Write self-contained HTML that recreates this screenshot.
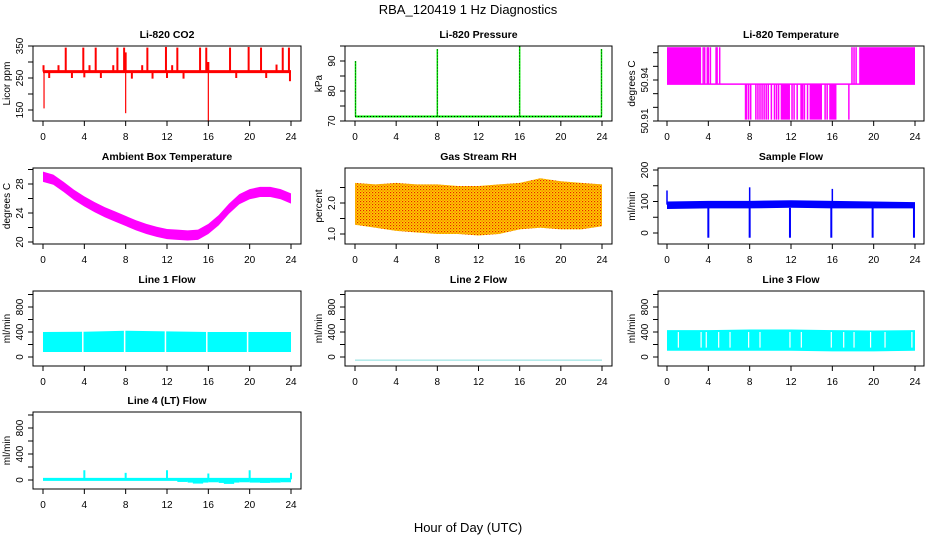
<!DOCTYPE html>
<html><head><meta charset="utf-8"><style>
html,body{margin:0;padding:0;background:#fff}
svg{display:block}
text{font-family:"Liberation Sans",Arial,sans-serif;fill:#000}
</style></head><body>
<svg id="chart" width="936" height="540" viewBox="0 0 936 540" xmlns="http://www.w3.org/2000/svg">
<defs>
<pattern id="rhpat" width="3" height="3" patternUnits="userSpaceOnUse">
<rect width="3" height="3" fill="#ffd000"/><rect x="0" y="0" width="1.2" height="1.2" fill="#e82000"/><rect x="1.5" y="1.5" width="1.2" height="1.2" fill="#f06000"/>
</pattern>
</defs>
<text x="468" y="14" text-anchor="middle" font-size="13">RBA_120419  1 Hz Diagnostics</text>
<text x="468" y="532" text-anchor="middle" font-size="13">Hour of Day (UTC)</text>
</svg>
<script>
// ---- data ----
const xTickValues=[0,4,8,12,16,20,24];
const co2Base=270;
const co2SpikeHours=[2.2,3.9,5.1,7.2,7.85,10.1,11.9,13.0,15.2,15.8,18.1,19.9,21.1,23.2,23.8,1.5,4.5,6.8,9.6,12.5,22.6,0.05,8.0,16.0,15.9];
const co2SpikeValues=[345,345,345,345,345,345,347,345,345,345,345,347,345,345,345,290,290,290,290,290,292,290,330,300,300];
const co2DipHours=[0.1,8.0,16.0,0.6,2.8,5.6,8.6,10.6,13.6,18.7,21.6,23.9,4.0,12.0];
const co2DipValues=[155,140,115,250,250,250,248,248,248,250,250,240,252,250];
const presBase=71.5;
const presSpikeHours=[0.05,8.0,16.0,23.95];
const presSpikeValues=[90,94,95,94];
const tempBase=50.937, tempHigh=50.964, tempLow=50.911;
const tempHighSpans=[[0,3.3],[18.6,24]];
const tempHighBars=[3.5,3.65,3.9,4.0,4.2,4.75,4.85,5.1,17.9,18.1,18.3];
const tempLowSpans=[[11.0,11.9],[12.9,13.2],[13.8,15.0],[15.7,16.4]];
const tempLowBars=[7.6,7.7,7.9,8.1,8.6,8.8,9.0,9.2,9.4,9.6,9.8,10.1,10.4,10.6,10.8,12.1,12.3,12.6,13.3,13.6,15.3,15.5,17.6];
const ambHours=[0,1,2,3,4,5,6,7,8,9,10,11,12,13,14,15,16,17,18,19,20,21,22,23,24];
const ambMid=[29,28.6,27.6,26.5,25.6,24.8,24.1,23.5,22.9,22.3,21.8,21.4,21.1,21.0,20.9,21.0,21.8,23.0,24.6,25.9,26.6,26.9,26.9,26.6,26.0];
const ambHalf=0.7;
const rhHours=[0,2,4,6,8,10,12,14,16,18,20,22,24];
const rhHigh=[2.65,2.6,2.65,2.6,2.6,2.55,2.55,2.6,2.65,2.8,2.7,2.65,2.6];
const rhLow=[1.3,1.2,1.1,1.05,1.0,1.0,0.95,1.0,1.15,1.2,1.15,1.15,1.25];
const sfHours=[0,4,8,12,16,20,24];
const sfLow=[76,78,78,80,78,78,78];
const sfHigh=[100,102,102,104,102,100,98];
const sfDipHours=[4.0,8.0,11.9,15.9,19.9,23.9];
const sfDipValues=[-15,-15,-15,-15,-15,-15];
const sfSpikeHours=[0.0,8.0,16.0];
const sfSpikeValues=[135,145,140];
const l1Hours=[0,4,8,12,16,20,24];
const l1Low=[80,80,80,80,80,80,80];
const l1High=[400,405,420,410,400,400,400];
const l1Gaps=[3.85,7.9,11.85,15.85,19.8];
const l2Value=-50;
const l3Hours=[0,4,8,12,16,20,24];
const l3Low=[100,100,100,100,90,90,100];
const l3High=[430,430,440,440,430,425,430];
const l3Gaps=[1.1,3.3,3.8,5.0,6.1,7.9,9.0,11.9,13.0,15.9,17.1,18.1,19.7,21.1,23.7];
const l4Base=10;
const l4SpikeHours=[4,8,12,16,20,24];
const l4SpikeValues=[150,110,150,100,150,110];
const l4NoiseHours=[13,14,14.5,15,16,17,17.5,18,19,20,21,22,23];
const l4NoiseValues=[-30,-40,-55,-40,-35,-45,-60,-40,-35,-40,-45,-40,-35];

// ---- layout ----
const NS="http://www.w3.org/2000/svg";
const svg=document.getElementById('chart');
const cols=[{x0:43,x1:291,bl:33,br:301},{x0:355,x1:602,bl:345,br:612},{x0:667,x1:915,bl:658,br:924}];
const rows=[{t:46,b:121},{t:168,b:244},{t:291,b:366},{t:412,b:489}];
function mk(tag,attrs,parent){const e=document.createElementNS(NS,tag);for(const k in attrs)e.setAttribute(k,attrs[k]);(parent||svg).appendChild(e);return e;}
function panel(ci,ri,name,title,ylab,cal,ticks,labels){
  const c=cols[ci],r=rows[ri];
  const g=mk('g',{});
  
  
  const X=h=>c.x0+(h/24)*(c.x1-c.x0);
  const Y=v=>cal[1]+(v-cal[0])*(cal[3]-cal[1])/(cal[2]-cal[0]);
  const clipId='clip'+ci+ri;
  const cp=mk('clipPath',{id:clipId},g);mk('rect',{x:c.bl,y:r.t,width:c.br-c.bl,height:r.b-r.t},cp);
  const dg=mk('g',{'clip-path':'url(#'+clipId+')'},g);
  
  
  const t=mk('text',{x:(c.bl+c.br)/2,y:r.t-8,'text-anchor':'middle','font-size':'10.5','font-weight':'bold'},g);t.textContent=title;
  
  
  const yl=mk('text',{transform:`translate(${c.bl-23},${(r.t+r.b)/2}) rotate(-90)`,'text-anchor':'middle','font-size':'10'},g);yl.textContent=ylab;
  
  
  xTickValues.forEach(h=>{
    mk('line',{x1:X(h),x2:X(h),y1:r.b,y2:r.b+5,stroke:'#000'},g);
    const tx=mk('text',{x:X(h),y:r.b+19,'text-anchor':'middle','font-size':'10'},g);tx.textContent=h;
    
    
  });
  ticks.forEach(v=>{mk('line',{x1:c.bl-5,x2:c.bl,y1:Y(v),y2:Y(v),stroke:'#000'},g);});
  labels.forEach(v=>{
    const tx=mk('text',{transform:`translate(${c.bl-10},${Y(v)}) rotate(-90)`,'text-anchor':'middle','font-size':'10'},g);tx.textContent=v;
    
    
  });
  mk('rect',{x:c.bl,y:r.t,width:c.br-c.bl,height:r.b-r.t,fill:'none',stroke:'#000'},g);
  return {X,Y,g:dg};
}
function area(p,xs,lo,hi,fill){
  let pts=xs.map((h,i)=>p.X(h)+','+p.Y(hi[i]));
  for(let i=xs.length-1;i>=0;i--)pts.push(p.X(xs[i])+','+p.Y(lo[i]));
  return mk('polygon',{points:pts.join(' '),fill:fill},p.g);
}
function vline(p,h,v1,v2,color,w){return mk('line',{x1:p.X(h),x2:p.X(h),y1:p.Y(v1),y2:p.Y(v2),stroke:color,'stroke-width':w||1.5},p.g);}

// CO2
let p=panel(0,0,'co2','Li-820 CO2','Licor ppm',[150,110,350,46],[150,200,250,300,350],[150,250,350]);
mk('line',{x1:p.X(0),x2:p.X(24),y1:p.Y(co2Base),y2:p.Y(co2Base),stroke:'#ff0000','stroke-width':3},p.g);
co2SpikeHours.forEach((h,i)=>{const e=vline(p,h,co2Base,co2SpikeValues[i],'#ff0000',2);});
co2DipHours.forEach((h,i)=>{const e=vline(p,h,co2Base,co2DipValues[i],'#ff0000',i<3?1.2:2);});

// Pressure
p=panel(1,0,'pressure','Li-820 Pressure','kPa',[70,121,90,61],[70,75,80,85,90,95],[70,80,90]);
mk('line',{x1:p.X(0),x2:p.X(24),y1:p.Y(presBase),y2:p.Y(presBase),stroke:'#00ee00','stroke-width':2},p.g);
mk('line',{x1:p.X(0),x2:p.X(24),y1:p.Y(presBase),y2:p.Y(presBase),stroke:'#000','stroke-width':1,'stroke-dasharray':'1,2'},p.g);
presSpikeHours.forEach((h,i)=>{const e=vline(p,h,presBase,presSpikeValues[i],'#00ee00',1.5);
  const d=vline(p,h,presBase,presSpikeValues[i],'#000',0.8);d.setAttribute('stroke-dasharray','1,2');});

// Li-820 Temperature
p=panel(2,0,'li820-temperature','Li-820 Temperature','degrees C',[50.91,121,50.94,80],[50.91,50.92,50.93,50.94,50.95,50.96],['50.91','50.94']);
tempHighSpans.forEach(s=>{mk('rect',{x:p.X(s[0]),y:p.Y(tempHigh),width:p.X(s[1])-p.X(s[0]),height:p.Y(tempBase)-p.Y(tempHigh),fill:'#ff00ff'},p.g);});
tempLowSpans.forEach(s=>{mk('rect',{x:p.X(s[0]),y:p.Y(tempBase),width:p.X(s[1])-p.X(s[0]),height:p.Y(tempLow)-p.Y(tempBase),fill:'#ff00ff'},p.g);});
tempHighBars.forEach(h=>vline(p,h,tempBase,tempHigh,'#ff00ff',1.5));
tempLowBars.forEach(h=>vline(p,h,tempBase,tempLow,'#ff00ff',1.5));
mk('line',{x1:p.X(0),x2:p.X(24),y1:p.Y(tempBase),y2:p.Y(tempBase),stroke:'#ff00ff','stroke-width':1.5},p.g);

// Ambient
p=panel(0,1,'ambient-temperature','Ambient Box Temperature','degrees C',[20,242,28,184],[20,22,24,26,28,30],[20,24,28]);
area(p,ambHours,ambMid.map(v=>v-ambHalf),ambMid.map(v=>v+ambHalf),'#ff00ff');

// RH
p=panel(1,1,'gas-stream-rh','Gas Stream RH','percent',[1.0,234,2.0,203],[1.0,1.5,2.0,2.5],['1.0','2.0']);
area(p,rhHours,rhLow,rhHigh,'url(#rhpat)');

// Sample flow
p=panel(2,1,'sample-flow','Sample Flow','ml/min',[0,233,200,170],[0,50,100,150,200],[0,100,200]);
area(p,sfHours,sfLow,sfHigh,'#0000ff');
sfDipHours.forEach((h,i)=>{const e=vline(p,h,80,sfDipValues[i],'#0000ff',2);});
sfSpikeHours.forEach((h,i)=>{const e=vline(p,h,90,sfSpikeValues[i],'#0000ff',1.5);});

// Line 1
const flowCal=[0,357,400,332];
p=panel(0,2,'line1-flow','Line 1 Flow','ml/min',flowCal,[0,200,400,600,800,1000],[0,400,800]);
area(p,l1Hours,l1Low,l1High,'#00ffff');
l1Gaps.forEach(h=>vline(p,h,l1Low[0]-20,l1High[0]+40,'#fff',1.5));

// Line 2
p=panel(1,2,'line2-flow','Line 2 Flow','ml/min',flowCal,[0,200,400,600,800,1000],[0,400,800]);
mk('line',{x1:p.X(0),x2:p.X(24),y1:p.Y(l2Value),y2:p.Y(l2Value),stroke:'#88dddd','stroke-width':1},p.g);

// Line 3
p=panel(2,2,'line3-flow','Line 3 Flow','ml/min',flowCal,[0,200,400,600,800,1000],[0,400,800]);
area(p,l3Hours,l3Low,l3High,'#00ffff');
l3Gaps.forEach(h=>vline(p,h,150,400,'#fff',1.2));

// Line 4
p=panel(0,3,'line4-flow','Line 4 (LT) Flow','ml/min',[0,480,400,454],[0,200,400,600,800,1000],[0,400,800]);
l4NoiseHours.forEach((h,i)=>{mk('rect',{x:p.X(h),y:p.Y(l4Base),width:p.X(1)-p.X(0),height:p.Y(l4NoiseValues[i])-p.Y(l4Base),fill:'#00ffff'},p.g);});
mk('line',{x1:p.X(0),x2:p.X(24),y1:p.Y(l4Base),y2:p.Y(l4Base),stroke:'#00ffff','stroke-width':3},p.g);
l4SpikeHours.forEach((h,i)=>{const e=vline(p,h,l4Base,l4SpikeValues[i],'#00ffff',2);});
</script>
</body></html>
